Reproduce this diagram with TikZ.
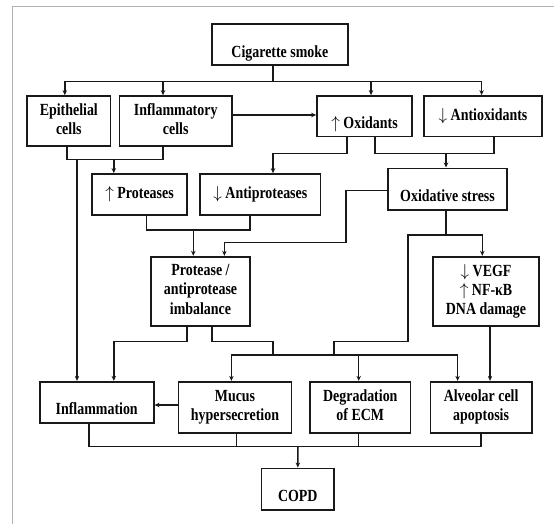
\documentclass[tikz,border=0pt]{standalone}
\usepackage{fontspec}
\setmainfont{Liberation Serif}[FakeStretch=0.82]
\usetikzlibrary{arrows.meta}

\begin{document}
\begin{tikzpicture}[x=1pt, y=-1pt, >={Stealth[length=5pt,width=4.5pt]},
  font=\bfseries\fontsize{17pt}{19.2pt}\selectfont,
  box/.style={draw=black!90, line width=1.7pt, align=center, inner sep=0pt, text depth=4pt},
  lowtxt/.style={text height=29pt, text depth=4pt},
  link/.style={draw=black!90, line width=1.5pt}]

\useasboundingbox (0,0) rectangle (554,524);

% ==================== FRAME ====================
\draw[gray!60, line width=1pt] (554,6.7) -| (12.7,524);

% ==================== BOXES ====================
% Top
\node[box, lowtxt, minimum width=135.7pt, minimum height=40.7pt] (smoke) at (279.9,44.7) {Cigarette smoke};

% First row
\node[box, minimum width=83.6pt, minimum height=49.7pt] (epi) at (68.8,120.9) {Epithelial\\cells};
\node[box, minimum width=112.6pt, minimum height=49.7pt] (infl) at (175.7,120.9) {Inflammatory\\cells};
\node[box, lowtxt, minimum width=95pt, minimum height=40.7pt] (oxi) at (364.5,116.3) {$\uparrow$ Oxidants};
\node[box, minimum width=118pt, minimum height=40.7pt] (antiox) at (483,116.3) {$\downarrow$ Antioxidants};

% Second row
\node[box, minimum width=95pt, minimum height=41pt] (prot) at (139.5,194.5) {$\uparrow$ Proteases};
\node[box, minimum width=120.5pt, minimum height=41pt] (antiprot) at (260.3,194.5) {$\downarrow$ Antiproteases};
\node[box, lowtxt, minimum width=119pt, minimum height=41.7pt] (oxstress) at (447.5,189.2) {Oxidative stress};

% Third row
\node[box, minimum width=99pt, minimum height=69.3pt] (imbal) at (200.5,291.3) {Protease /\\antiprotease\\imbalance};
\node[box, minimum width=106pt, minimum height=69.3pt] (vegf) at (486,291.3) {$\downarrow$ VEGF\\$\uparrow$ NF-κB\\DNA damage};

% Fourth row
\node[box, lowtxt, minimum width=114pt, minimum height=41pt] (inflam) at (96.7,402.2) {Inflammation};
\node[box, minimum width=113pt, minimum height=51pt] (mucus) at (235,407.2) {Mucus\\hypersecretion};
\node[box, minimum width=100.6pt, minimum height=51pt] (degr) at (360.3,407.2) {Degradation\\of ECM};
\node[box, minimum width=101.4pt, minimum height=51pt] (alv) at (481.1,407.2) {Alveolar cell\\apoptosis};

% Bottom
\node[box, lowtxt, minimum width=72.5pt, minimum height=41.7pt] (copd) at (297.8,489.2) {COPD};

% ==================== JUNCTIONS ====================
\coordinate (sbus) at (273,81.7);
\coordinate (j1) at (113.8,159.3);
\coordinate (epij) at (77,159.3);
\coordinate (j2) at (273,153.3);
\coordinate (j3) at (446,153.3);
\coordinate (j4) at (193.3,230);
\coordinate (j5) at (446,235);
\coordinate (j6) at (187,341.7);
\coordinate (mbus) at (273,355);
\coordinate (cbus) at (298,446.7);

% ==================== CONNECTORS ====================
% Smoke -> first row
\draw[link] (sbus |- smoke.south) -- (sbus);
\draw[link, ->] (sbus) -| ([xshift=-4pt]epi.north);
\draw[link, ->] (sbus) -| ([xshift=-12.7pt]infl.north);
\draw[link, ->] (sbus) -| ([xshift=6.5pt]oxi.north);
\draw[link, ->] (sbus) -| ([xshift=-1.4pt]antiox.north);

% Inflammatory cells -> oxidants
\draw[link, ->] ([yshift=1.3pt]oxi.west -| infl.east) -- ([yshift=1.3pt]oxi.west);

% Cells -> proteases, epithelial -> inflammation
\draw[link] ([xshift=-1.8pt]epi.south) |- (j1) -| ([xshift=-12.7pt]infl.south);
\draw[link, ->] (j1) -- (j1 |- prot.north);
\draw[link, ->] (epij) -- (epij |- inflam.north);

% Oxidants -> antiproteases
\draw[link] ([xshift=-17.5pt]oxi.south) |- (j2);
\draw[link, ->] (j2) -- (j2 |- antiprot.north);

% Oxidants / antioxidants -> oxidative stress
\draw[link] ([xshift=10.5pt]oxi.south) |- (j3) -| ([xshift=11pt]antiox.south);
\draw[link, ->] (j3) -- (j3 |- oxstress.north);

% Proteases / antiproteases -> imbalance
\draw[link] ([xshift=7.1pt]prot.south) |- (j4) -| ([xshift=-10.3pt]antiprot.south);
\draw[link, ->] (j4) -- (j4 |- imbal.north);

% Oxidative stress -> imbalance
\draw[link, ->] ([yshift=-1.5pt]oxstress.west) -| (346,242.3) -| ([xshift=23.9pt]imbal.north);

% Oxidative stress -> VEGF and lower bus
\draw[link] ([xshift=-1.5pt]oxstress.south) -- (j5);
\draw[link, ->] (j5) -| ([xshift=-3.7pt]vegf.north);
\draw[link] (j5) -| (408,341.7) -| (334,355);

% Imbalance -> inflammation and lower bus
\draw[link, ->] ([xshift=-13.5pt]imbal.south) -- (j6) -| ([xshift=17.1pt]inflam.north);
\draw[link] ([xshift=11.5pt]imbal.south) |- (273,341.7) -- (mbus);

% Lower bus -> fourth row
\draw[link] (mbus) -- (334,355);
\draw[link, ->] (mbus) -| ([xshift=-3.6pt]mucus.north);
\draw[link, ->] (mbus) -| ([xshift=-1.6pt]degr.north);
\draw[link, ->] (334,355) -| ([xshift=-23.5pt]alv.north);
\draw[link, ->] ([xshift=4pt]vegf.south) -- ([xshift=4pt]vegf.south |- alv.north);

% Mucus -> inflammation
\draw[link, ->] ([yshift=2.2pt]mucus.west) -- ([yshift=2.2pt]mucus.west -| inflam.east);

% Fourth row -> COPD
\draw[link] ([xshift=-7.7pt]inflam.south) |- (cbus) -| (alv.south);
\draw[link] ([xshift=1.7pt]mucus.south) -- ([xshift=1.7pt]mucus.south |- cbus);
\draw[link] ([xshift=-1.6pt]degr.south) -- ([xshift=-1.6pt]degr.south |- cbus);
\draw[link, ->] (cbus) -- (copd.north);

\end{tikzpicture}
\end{document}
